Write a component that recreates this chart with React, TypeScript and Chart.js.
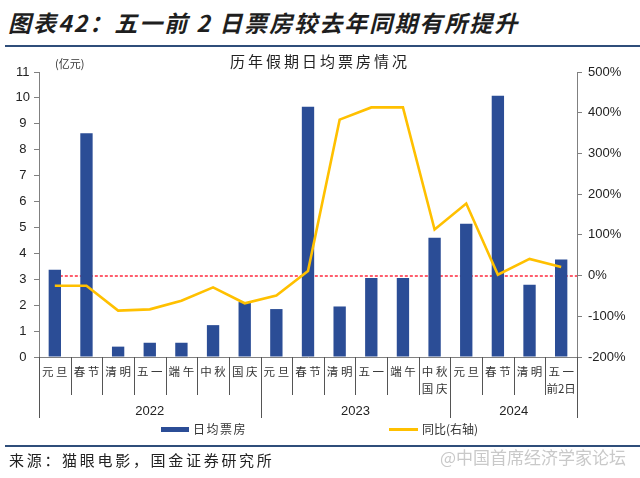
import React, { useEffect, useRef } from "react";
import { Chart, registerables } from "chart.js";

Chart.register(...registerables);

// ---- data ----
const categories: (string | string[])[] = [
  "元 旦", "春 节", "清 明", "五 一", "端 午", "中 秋", "国 庆",
  "元 旦", "春 节", "清 明", "五 一", "端 午", ["中 秋", "国 庆"],
  "元 旦", "春 节", "清 明", ["五 一", "前2日"],
];
const dailyBoxOffice = [3.37, 8.64, 0.4, 0.55, 0.55, 1.23, 2.12, 1.85, 9.66, 1.95, 3.05, 3.05, 4.6, 5.14, 10.08, 2.79, 3.76];
const yoyPct = [-25, -25, -86, -83, -62, -29, -68, -49, 11, 383, 413, 413, 113, 177, 2, 41, 21];
const yearLabels = ["2022", "2023", "2024"];
const yearStarts = [0, 7, 13];
const yearEnds = [7, 13, 17];
const refLineValue = 0;
const leftTicks = [0, 11];
const rightTicks = [-200, 500];

const BLUE = "#2B4D96";
const YELLOW = "#FFC000";
const CJK = '"Noto Sans CJK SC", sans-serif';
const LATIN = '"Liberation Sans", Arial, sans-serif';

const decorPlugin = {
  id: "decor",
  beforeDatasetsDraw(chart: any) {
    const { ctx, chartArea, scales } = chart;
    const y = Math.round(scales.y1.getPixelForValue(refLineValue));
    const x0 = scales.x.getPixelForValue(0);
    ctx.save();
    ctx.strokeStyle = "rgb(255, 40, 60)";
    ctx.lineWidth = 1.6;
    ctx.setLineDash([3, 2]);
    ctx.beginPath();
    ctx.moveTo(x0, y);
    ctx.lineTo(chartArea.right, y);
    ctx.stroke();
    ctx.restore();
  },
  afterDraw(chart: any) {
    const { ctx, chartArea, scales } = chart;
    const xs = scales.x;
    const n = categories.length;
    const longB = new Set<number>([...yearStarts, n]);
    ctx.save();
    ctx.strokeStyle = "#555";
    ctx.lineWidth = 1;
    for (let i = 0; i <= n; i++) {
      const x = Math.round(xs.getPixelForValue(i - 0.5)) + 0.5;
      ctx.beginPath();
      ctx.moveTo(x, chartArea.bottom);
      ctx.lineTo(x, chartArea.bottom + (longB.has(i) ? 61 : 38));
      ctx.stroke();
    }
    ctx.fillStyle = "#222";
    ctx.font = `13px ${LATIN}`;
    ctx.textAlign = "center";
    ctx.textBaseline = "middle";
    yearLabels.forEach((lab, k) => {
      const xa = xs.getPixelForValue(yearStarts[k] - 0.5);
      const xb = xs.getPixelForValue(yearEnds[k] - 0.5);
      ctx.fillText(lab, (xa + xb) / 2, chartArea.bottom + 54);
    });
    ctx.restore();
  },
};

export default function App() {
  const ref = useRef<HTMLCanvasElement>(null);
  useEffect(() => {
    if (!ref.current) return;
    const chart = new Chart(ref.current, {
      type: "bar",
      data: {
        labels: categories as any,
        datasets: [
          {
            type: "line",
            label: "同比(右轴)",
            data: yoyPct,
            yAxisID: "y1",
            borderColor: YELLOW,
            backgroundColor: YELLOW,
            borderWidth: 2.6,
            pointRadius: 0,
            tension: 0,
            order: 0,
          } as any,
          {
            type: "bar",
            label: "日均票房",
            data: dailyBoxOffice,
            yAxisID: "y",
            backgroundColor: BLUE,
            barPercentage: 0.39,
            categoryPercentage: 1,
            order: 1,
          },
        ],
      },
      options: {
        responsive: false,
        animation: false,
        devicePixelRatio: 1,
        layout: { padding: { top: 72, left: 0, right: 0, bottom: 0 } },
        plugins: { legend: { display: false }, tooltip: { enabled: false }, title: { display: false } },
        scales: {
          x: {
            offset: true,
            grid: { display: false, drawTicks: false },
            border: { display: true, color: "#808080", width: 1 },
            ticks: {
              color: "#333",
              font: { family: CJK, size: 11.5, lineHeight: 1.4 },
              padding: 7,
              maxRotation: 0,
              autoSkip: false,
            },
            afterFit: (s: any) => { s.height = 121; },
          },
          y: {
            position: "left",
            min: leftTicks[0],
            max: leftTicks[1],
            ticks: { stepSize: 1, color: "#222", font: { family: LATIN, size: 13 }, padding: 4, crossAlign: "center" },
            grid: { drawOnChartArea: false, drawTicks: true, tickLength: 5, color: "#808080" },
            border: { color: "#808080" },
            afterFit: (s: any) => { s.width = 39; },
          },
          y1: {
            position: "right",
            min: rightTicks[0],
            max: rightTicks[1],
            ticks: { stepSize: 100, color: "#222", font: { family: LATIN, size: 13 }, padding: 6, callback: (v: any) => `${v}%` },
            grid: { drawOnChartArea: false, drawTicks: true, tickLength: 5, color: "#808080" },
            border: { color: "#808080" },
            afterFit: (s: any) => { s.width = 63; },
          },
        },
      },
      plugins: [decorPlugin],
    });
    return () => chart.destroy();
  }, []);

  return (
    <div style={{ position: "fixed", left: 0, top: 0, width: 640, height: 478, background: "#fff", overflow: "hidden" }}>
      <div style={{ position: "absolute", left: 8, top: 6, fontFamily: CJK, fontWeight: 700, fontStyle: "italic", fontSize: 23, letterSpacing: 2, color: "#1e1e1e", whiteSpace: "nowrap", lineHeight: "32px" }}>
        图表42：五一前 2 日票房较去年同期有所提升
      </div>
      <div style={{ position: "absolute", left: 5, top: 45, width: 635, height: 2, background: "#2F4E7A" }} />
      <canvas ref={ref} width={640} height={478} style={{ position: "absolute", left: 0, top: 0, width: 640, height: 478 }} />
      <div style={{ position: "absolute", left: 0, width: 640, top: 50, textAlign: "center", fontFamily: CJK, fontSize: 15, letterSpacing: 3, color: "#222", lineHeight: "22px" }}>
        历年假期日均票房情况
      </div>
      <div style={{ position: "absolute", left: 55, top: 55, fontFamily: CJK, fontSize: 11, color: "#333", lineHeight: "16px" }}>(亿元)</div>
      <div style={{ position: "absolute", left: 161, top: 427, width: 28, height: 5, background: BLUE }} />
      <div style={{ position: "absolute", left: 193, top: 420, fontFamily: CJK, fontSize: 12, letterSpacing: 1.5, color: "#333", lineHeight: "18px" }}>日均票房</div>
      <div style={{ position: "absolute", left: 389, top: 428, width: 29, height: 2.5, background: YELLOW }} />
      <div style={{ position: "absolute", left: 422, top: 420, fontFamily: CJK, fontSize: 12, color: "#333", lineHeight: "18px" }}>同比(右轴)</div>
      <div style={{ position: "absolute", left: 5, top: 445, width: 635, height: 1.5, background: "#2F4E7A" }} />
      <div style={{ position: "absolute", left: 9, top: 449, fontFamily: CJK, fontSize: 15, letterSpacing: 2.7, color: "#222", lineHeight: "22px", whiteSpace: "nowrap" }}>
        来源：猫眼电影，国金证券研究所
      </div>
      <div style={{ position: "absolute", left: 440, top: 446, fontFamily: CJK, fontSize: 17, color: "#c9c9c9", lineHeight: "22px", whiteSpace: "nowrap" }}>
        @中国首席经济学家论坛
      </div>
    </div>
  );
}
